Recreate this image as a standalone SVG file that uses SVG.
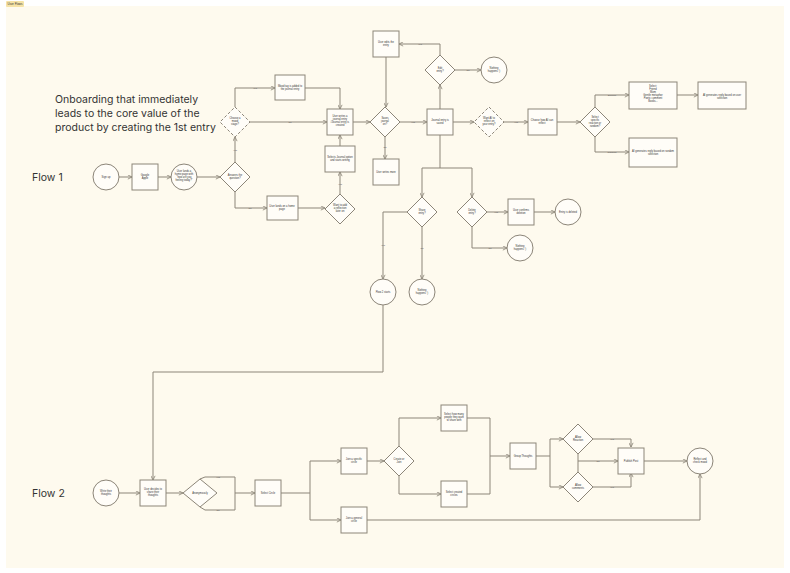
<svg xmlns="http://www.w3.org/2000/svg" width="790" height="573" viewBox="0 0 790 573">
<defs>
<marker id="ar" viewBox="0 0 6 6" refX="5.5" refY="3" markerWidth="5" markerHeight="5" orient="auto"><path d="M0.5,0.5 L5.5,3 L0.5,5.5" fill="none" stroke="#8c8578" stroke-width="1"/></marker>
<style>
.n{fill:#fffdf8;stroke:#8c8578;stroke-width:1}
.d{stroke-dasharray:3 2}
.t{font-family:"Liberation Sans",Arial,sans-serif;font-size:2.6px;fill:#333;text-anchor:middle}
.e path{fill:none;stroke:#8c8578;stroke-width:1}
.e path.a{marker-end:url(#ar)}
.l{font-family:"Liberation Sans",Arial,sans-serif;font-size:2.4px;fill:#555;text-anchor:middle}
.h{font-family:Inter,"Liberation Sans",sans-serif;fill:#333}
</style>
</defs>
<rect width="790" height="573" fill="#ffffff"/>
<rect x="6" y="6" width="778" height="562" fill="#fefaee"/>
<rect x="6" y="1" width="18" height="6" rx="1" fill="#f6e3a6"/>
<text x="15" y="5" font-family="Liberation Sans,sans-serif" font-size="3" text-anchor="middle" fill="#333">User Flows</text>
<g class="h" font-size="10.5"><text x="55" y="103">Onboarding that immediately</text><text x="55" y="117">leads to the core value of the</text><text x="55" y="131">product by creating the 1st entry</text></g>
<text class="h" x="32" y="181" font-size="10.5">Flow 1</text>
<text class="h" x="32" y="497" font-size="10.5">Flow 2</text>

<g class="e">
<path class="a" d="M119,177H132"/><path class="a" d="M158,177H171"/><path class="a" d="M197,177H220"/>
<path class="a" d="M235,162V137"/><path class="a" d="M235,192V208H267"/><path class="a" d="M298,208H325"/>
<path class="a" d="M340,194V172"/><path class="a" d="M340,146V135"/><path class="a" d="M250,122H327"/>
<path class="a" d="M235,107V88H275"/><path class="a" d="M305,88H340V109"/><path class="a" d="M353,122H370"/>
<path class="a" d="M386,57V107"/><path class="a" d="M385,137V159"/><path class="a" d="M400,122H427"/>
<path class="a" d="M440,109V85"/><path class="a" d="M455,70H481"/><path class="a" d="M440,55V44H399"/>
<path class="a" d="M453,122H474"/><path class="a" d="M504,122H528"/><path class="a" d="M557,122H580"/>
<path class="a" d="M595,107V95H629"/><path class="a" d="M595,137V152H629"/><path class="a" d="M677,95H698"/>
<path d="M440,135V168"/><path class="a" d="M440,168H422V197"/><path class="a" d="M440,168H472V197"/>
<path class="a" d="M487,212H508"/><path class="a" d="M534,212H555"/><path class="a" d="M472,227V248H507"/>
<path class="a" d="M407,212H383V279"/><path class="a" d="M422,227V279"/>
<path class="a" d="M383,305V372H153V480"/>
<path class="a" d="M119,493H140"/><path class="a" d="M166,493H183"/>
<path d="M200,479L205,477H235V493"/><path d="M200,507L205,510H235V493"/><path class="a" d="M235,493H255"/>
<path d="M281,493H310"/><path class="a" d="M310,493V461H341"/><path class="a" d="M310,493V520H341"/>
<path class="a" d="M367,461H384"/><path class="a" d="M399,446V418H441"/><path class="a" d="M399,476V494H441"/>
<path d="M467,418H490V456"/><path d="M467,494H490V456"/><path class="a" d="M490,456H510"/>
<path class="a" d="M536,456H550V439H563"/><path class="a" d="M550,456V487H563"/>
<path class="a" d="M593,439H631V447"/><path class="a" d="M593,487H631V473"/>
<path d="M578,454V472"/><path class="a" d="M578,461H618"/>
<path class="a" d="M644,461H687"/><path class="a" d="M367,520H700V474"/>
</g>
<g class="l">
<text x="235" y="151">Yes</text><text x="250" y="209">No</text><text x="340" y="185">Yes</text><text x="290" y="123">No</text>
<text x="255" y="89">yes</text><text x="385" y="148">No</text><text x="413" y="123">Yes</text><text x="468" y="71">No</text>
<text x="420" y="45">yes</text><text x="516" y="123">Yes</text><text x="612" y="96">Specific</text><text x="612" y="153">Random</text>
<text x="496" y="213">Yes</text><text x="490" y="249">No</text><text x="383" y="246">yes</text><text x="422" y="249">No</text>
<text x="218" y="478">Yes</text><text x="218" y="511">No</text><text x="612" y="440">yes</text><text x="612" y="488">yes</text><text x="598" y="462">No</text>
</g>

<g id="signup"><circle class="n" cx="106" cy="177" r="13"/><text class="t" x="106" y="178">Sign up</text></g>
<g id="google"><rect class="n" x="132" y="164" width="26" height="26"/><text class="t" x="145" y="176">Google</text><text class="t" x="145" y="179">Apple</text></g>
<g id="home1"><circle class="n" cx="184" cy="177" r="13"/><text class="t" x="184" y="172">User lands a</text><text class="t" x="184" y="175">home page with</text><text class="t" x="184" y="178">"how are you</text><text class="t" x="184" y="181">feeling today?"</text></g>
<g id="answers"><path class="n" d="M235,162L250,177L235,192L220,177Z"/><text class="t" x="235" y="176">Answers the</text><text class="t" x="235" y="179">question?</text></g>
<g id="mood"><path class="n d" d="M235,107L250,122L235,137L220,122Z"/><text class="t" x="235" y="119">Choose a</text><text class="t" x="235" y="122">mood</text><text class="t" x="235" y="125">stage?</text></g>
<g id="moodtag"><rect class="n" x="275" y="75" width="30" height="25"/><text class="t" x="290" y="87">Mood tag is added to</text><text class="t" x="290" y="90">the journal entry</text></g>
<g id="writes"><rect class="n" x="327" y="109" width="26" height="26"/><text class="t" x="340" y="117">User writes a</text><text class="t" x="340" y="120">journal entry</text><text class="t" x="340" y="123">/Journal entry is</text><text class="t" x="340" y="126">created</text></g>
<g id="select"><rect class="n" x="325" y="146" width="30" height="26"/><text class="t" x="340" y="158">Selects Journal option</text><text class="t" x="340" y="161">and starts writing</text></g>
<g id="addlater"><path class="n" d="M340,194L355,209L340,224L325,209Z"/><text class="t" x="340" y="206">Want to add</text><text class="t" x="340" y="209">a reflection</text><text class="t" x="340" y="212">later on</text></g>
<g id="home2"><rect class="n" x="267" y="196" width="31" height="24"/><text class="t" x="282" y="207">User lands on a home</text><text class="t" x="282" y="210">page</text></g>
<g id="saves"><path class="n" d="M385,107L400,122L385,137L370,122Z"/><text class="t" x="385" y="119">Saves</text><text class="t" x="385" y="122">journal</text><text class="t" x="385" y="125">on?</text></g>
<g id="edits"><rect class="n" x="373" y="31" width="26" height="26"/><text class="t" x="386" y="43">User edits the</text><text class="t" x="386" y="46">entry</text></g>
<g id="more"><rect class="n" x="373" y="159" width="26" height="26"/><text class="t" x="386" y="173">User writes more</text></g>
<g id="saved"><rect class="n" x="427" y="109" width="26" height="26"/><text class="t" x="440" y="121">Journal entry is</text><text class="t" x="440" y="124">saved</text></g>
<g id="edit"><path class="n" d="M440,55L455,70L440,85L425,70Z"/><text class="t" x="440" y="69">Edit</text><text class="t" x="440" y="72">entry?</text></g>
<g id="nothing1"><circle class="n" cx="494" cy="70" r="13"/><text class="t" x="494" y="69">Nothing</text><text class="t" x="494" y="72">happens :)</text></g>
<g id="wantai"><path class="n d" d="M489,107L504,122L489,137L474,122Z"/><text class="t" x="489" y="119">Want AI to</text><text class="t" x="489" y="122">reflect on</text><text class="t" x="489" y="125">your entry?</text></g>
<g id="choose"><rect class="n" x="528" y="109" width="29" height="26"/><text class="t" x="542" y="121">Choose how AI can</text><text class="t" x="542" y="124">reflect</text></g>
<g id="specific"><path class="n" d="M595,107L610,122L595,137L580,122Z"/><text class="t" x="595" y="118">Select</text><text class="t" x="595" y="121">specific</text><text class="t" x="595" y="124">reaction or</text><text class="t" x="595" y="127">random?</text></g>
<g id="options"><rect class="n" x="629" y="82" width="48" height="27"/><text class="t" x="653" y="87">Select:</text><text class="t" x="653" y="90">Friend</text><text class="t" x="653" y="93">Mom</text><text class="t" x="653" y="96">Gentle metaphor</text><text class="t" x="653" y="99">Poetic comment</text><text class="t" x="653" y="102">Books...</text></g>
<g id="aisel"><rect class="n" x="698" y="82" width="48" height="27"/><text class="t" x="722" y="96">AI generates reply based on user</text><text class="t" x="722" y="99">selection</text></g>
<g id="airand"><rect class="n" x="629" y="138" width="48" height="29"/><text class="t" x="653" y="152">AI generates reply based on random</text><text class="t" x="653" y="155">selection</text></g>
<g id="share"><path class="n" d="M422,197L437,212L422,227L407,212Z"/><text class="t" x="422" y="211">Share</text><text class="t" x="422" y="214">entry?</text></g>
<g id="delete"><path class="n" d="M472,197L487,212L472,227L457,212Z"/><text class="t" x="472" y="211">Delete</text><text class="t" x="472" y="214">entry?</text></g>
<g id="confirm"><rect class="n" x="508" y="199" width="26" height="26"/><text class="t" x="521" y="211">User confirms</text><text class="t" x="521" y="214">deletion</text></g>
<g id="deleted"><circle class="n" cx="568" cy="212" r="13"/><text class="t" x="568" y="213">Entry is deleted</text></g>
<g id="nothing2"><circle class="n" cx="520" cy="248" r="13"/><text class="t" x="520" y="247">Nothing</text><text class="t" x="520" y="250">happens :)</text></g>
<g id="flow2start"><circle class="n" cx="383" cy="292" r="13"/><text class="t" x="383" y="293">Flow 2 starts</text></g>
<g id="nothing3"><circle class="n" cx="422" cy="292" r="13"/><text class="t" x="422" y="291">Nothing</text><text class="t" x="422" y="294">happens :)</text></g>

<g id="write"><circle class="n" cx="106" cy="493" r="13"/><text class="t" x="106" y="492">Write their</text><text class="t" x="106" y="495">thoughts</text></g>
<g id="decides"><rect class="n" x="140" y="480" width="26" height="26"/><text class="t" x="153" y="490">User decides to</text><text class="t" x="153" y="493">share their</text><text class="t" x="153" y="496">thoughts</text></g>
<g id="anon"><path class="n" d="M200,479L217,493L200,507L183,493Z"/><text class="t" x="200" y="494">Anonymously</text></g>
<g id="selcircle"><rect class="n" x="255" y="480" width="26" height="26"/><text class="t" x="268" y="494">Select Circle</text></g>
<g id="joinspec"><rect class="n" x="341" y="448" width="26" height="26"/><text class="t" x="354" y="460">Join a specific</text><text class="t" x="354" y="463">circle</text></g>
<g id="joingen"><rect class="n" x="341" y="507" width="26" height="26"/><text class="t" x="354" y="519">Join a general</text><text class="t" x="354" y="522">circle</text></g>
<g id="private"><path class="n" d="M399,446L414,461L399,476L384,461Z"/><text class="t" x="399" y="460">Create or</text><text class="t" x="399" y="463">Join</text></g>
<g id="howmany"><rect class="n" x="441" y="405" width="26" height="26"/><text class="t" x="454" y="415">Select how many</text><text class="t" x="454" y="418">people they want</text><text class="t" x="454" y="421">to share with</text></g>
<g id="created"><rect class="n" x="441" y="481" width="26" height="26"/><text class="t" x="454" y="493">Select created</text><text class="t" x="454" y="496">circles</text></g>
<g id="group"><rect class="n" x="510" y="443" width="26" height="26"/><text class="t" x="523" y="457">Group Thoughts</text></g>
<g id="reaction"><path class="n" d="M578,424L593,439L578,454L563,439Z"/><text class="t" x="578" y="438">Allow</text><text class="t" x="578" y="441">Reaction</text></g>
<g id="comments"><path class="n" d="M578,472L593,487L578,502L563,487Z"/><text class="t" x="578" y="486">Allow</text><text class="t" x="578" y="489">comments</text></g>
<g id="publish"><rect class="n" x="618" y="448" width="26" height="26"/><text class="t" x="631" y="462">Publish Post</text></g>
<g id="reflect"><circle class="n" cx="700" cy="461" r="13"/><text class="t" x="700" y="460">Reflect and</text><text class="t" x="700" y="463">check mood</text></g>
</svg>
